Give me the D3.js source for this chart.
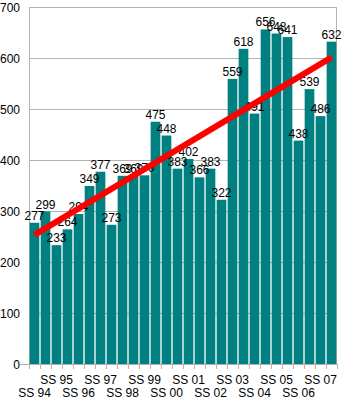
<!DOCTYPE html>
<html>
<head>
<meta charset="utf-8">
<script src="https://cdn.jsdelivr.net/npm/d3@7"></script>
<style>
html,body{margin:0;padding:0;background:#fff;}
svg{display:block;font-family:"Liberation Sans",Arial,sans-serif;}
</style>
</head>
<body>
<svg id="chart" width="342" height="400"></svg>
<script>
const categories = ["SS 94","","SS 95","","SS 96","","SS 97","","SS 98","","SS 99","","SS 00","",
                    "SS 01","","SS 02","","SS 03","","SS 04","","SS 05","","SS 06","","SS 07",""];
const values = [277,299,233,264,294,349,377,273,369,369,370,475,448,383,
                402,366,383,322,559,618,491,656,648,641,438,539,486,632];
const yTicks = [0,100,200,300,400,500,600,700];

const W = 342, H = 400;
const m = {left:29, right:5, top:7, bottom:36};
const svg = d3.select("#chart");

const idx = values.map((d,i)=>i);
const x = d3.scaleBand().domain(idx).range([m.left, W-m.right]).paddingInner(0.12).paddingOuter(0.06);
const y = d3.scaleLinear().domain([0,700]).range([H-m.bottom, m.top]);
const step = x.step();
const edge = i => x(i) - step*0.06;

// gridlines
svg.append("g").selectAll("line").data(yTicks).join("line")
  .attr("x1", m.left).attr("x2", W-m.right)
  .attr("y1", d=>y(d)+0.5).attr("y2", d=>y(d)+0.5)
  .attr("stroke","#b3b3b3").attr("stroke-width",1);
// frame lines
svg.append("line").attr("x1",m.left+0.5).attr("x2",m.left+0.5).attr("y1",y(700)).attr("y2",y(0))
  .attr("stroke","#b3b3b3");
svg.append("line").attr("x1",W-m.right-0.5).attr("x2",W-m.right-0.5).attr("y1",y(700)).attr("y2",y(0))
  .attr("stroke","#b3b3b3");
svg.append("line").attr("x1",m.left-9).attr("x2",m.left).attr("y1",y(0)+0.5).attr("y2",y(0)+0.5)
  .attr("stroke","#b3b3b3");

// y tick labels
svg.append("g").selectAll("text").data(yTicks).join("text")
  .attr("x", 20).attr("y", d=>y(d)+4.5)
  .attr("text-anchor","end").attr("font-size",12).attr("fill","#000")
  .text(d=>d);

// bars
svg.append("g").selectAll("rect").data(values).join("rect")
  .attr("x",(d,i)=>x(i)).attr("width",x.bandwidth())
  .attr("y",d=>y(d)).attr("height",d=>y(0)-y(d))
  .attr("fill","#008080");

// x ticks
const tickPos = d3.range(values.length+1).map(i => i<values.length ? edge(i) : edge(values.length-1)+step);
svg.append("g").selectAll("line").data(tickPos).join("line")
  .attr("x1",d=>Math.round(d)+0.5).attr("x2",d=>Math.round(d)+0.5)
  .attr("y1",y(0)).attr("y2",y(0)+5)
  .attr("stroke","#c8a8b4");

// x labels (staggered)
svg.append("g").selectAll("text").data(categories.map((c,i)=>({c,i})).filter(d=>d.c!=="")).join("text")
  .attr("x", d=>x(d.i)+x.bandwidth()/2)
  .attr("y", d=>((d.i/2)%2===0) ? 397 : 384)
  .attr("text-anchor","middle").attr("font-size",12).attr("fill","#000")
  .text(d=>d.c);

// value labels
svg.append("g").selectAll("text").data(values).join("text")
  .attr("x",(d,i)=>x(i)+x.bandwidth()/2)
  .attr("y",d=>y(d)-3)
  .attr("text-anchor","middle").attr("font-size",12).attr("fill","#000")
  .text(d=>d);

// linear trend line (least squares fit of the bar values)
const n = values.length;
const mx = d3.mean(idx), my = d3.mean(values);
const slope = d3.sum(idx, i=>(i-mx)*(values[i]-my)) / d3.sum(idx, i=>(i-mx)*(i-mx));
const icpt = my - slope*mx;
const cx = i => x(i)+x.bandwidth()/2;
svg.append("line")
  .attr("x1",cx(0)).attr("y1",y(icpt))
  .attr("x2",cx(n-1)).attr("y2",y(icpt+slope*(n-1)))
  .attr("stroke","#ff0000").attr("stroke-width",6);
</script>
</body>
</html>
